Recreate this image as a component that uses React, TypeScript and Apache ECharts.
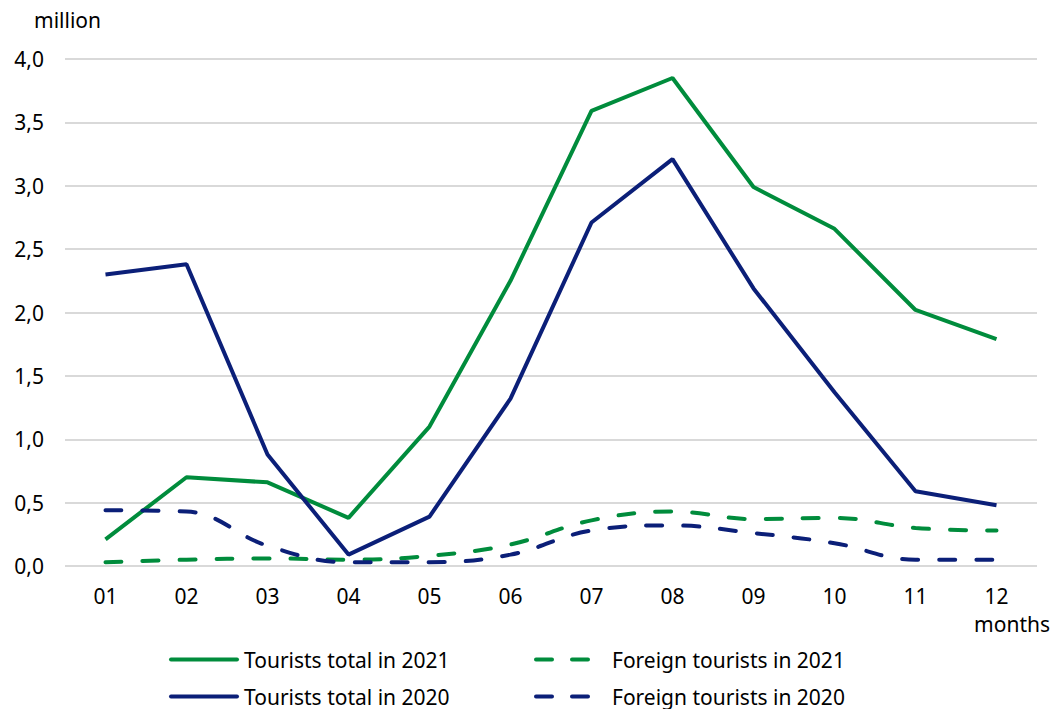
import React, { useEffect, useRef } from "react";
import * as echarts from "echarts";

const months = ["01", "02", "03", "04", "05", "06", "07", "08", "09", "10", "11", "12"];
const total2021 = [0.21, 0.7, 0.66, 0.38, 1.1, 2.25, 3.59, 3.85, 2.99, 2.66, 2.02, 1.79];
const total2020 = [2.3, 2.38, 0.88, 0.09, 0.39, 1.32, 2.71, 3.21, 2.19, 1.37, 0.59, 0.48];
const foreign2021 = [0.03, 0.05, 0.06, 0.05, 0.08, 0.17, 0.36, 0.43, 0.37, 0.38, 0.3, 0.28];
const foreign2020 = [0.44, 0.43, 0.16, 0.03, 0.03, 0.09, 0.28, 0.32, 0.26, 0.18, 0.05, 0.05];
const yTicks = [0, 0.5, 1, 1.5, 2, 2.5, 3, 3.5, 4];

const GREEN = "#008C3C";
const BLUE = "#0B1F78";
const FONT = "'Noto Sans', sans-serif";
const FS = 21;

function solidLegend(name: string, top: number) {
  return {
    left: 164,
    top,
    itemWidth: 66,
    itemHeight: 14,
    itemStyle: { opacity: 0 },
    lineStyle: { width: 4, cap: "round" },
    textStyle: { color: "#000", fontSize: FS, fontFamily: FONT, padding: [0, 0, 0, 2] },
    data: [name],
  };
}
function dashLegend(name: string, top: number) {
  return {
    left: 529,
    top,
    itemWidth: 52,
    itemHeight: 14,
    itemStyle: { opacity: 0 },
    lineStyle: { width: 4, type: [16, 20], cap: "round" },
    textStyle: { color: "#000", fontSize: FS, fontFamily: FONT, padding: [0, 0, 0, 19] },
    data: [name],
  };
}

export default function App() {
  const ref = useRef<HTMLDivElement>(null);
  useEffect(() => {
    if (!ref.current) return;
    const chart = echarts.init(ref.current, null, { renderer: "svg" });
    const dash = [16, 21];
    chart.setOption({
      animation: false,
      grid: { left: 65, right: 16, top: 59, bottom: 143, containLabel: false },
      xAxis: {
        type: "category",
        data: months,
        boundaryGap: true,
        axisLine: { show: false },
        axisTick: { show: false },
        axisLabel: { color: "#000", fontSize: FS, fontFamily: FONT, margin: 19 },
      },
      yAxis: {
        type: "value",
        min: yTicks[0],
        max: yTicks[yTicks.length - 1],
        interval: 0.5,
        axisLine: { show: false },
        axisTick: { show: false },
        splitLine: { lineStyle: { color: "#d9d9d9", width: 2 } },
        axisLabel: {
          color: "#000",
          fontSize: FS,
          fontFamily: FONT,
          margin: 21,
          formatter: (v: number) => v.toFixed(1).replace(".", ","),
        },
      },
      legend: [
        solidLegend("Tourists total in 2021", 644),
        solidLegend("Tourists total in 2020", 681),
        dashLegend("Foreign tourists in 2021", 644),
        dashLegend("Foreign tourists in 2020", 681),
      ],
      graphic: [
        {
          type: "text",
          left: 34,
          top: 9,
          style: { text: "million", fill: "#000", fontSize: FS, fontFamily: FONT },
        },
        {
          type: "text",
          right: 3,
          top: 613,
          style: { text: "months", fill: "#000", fontSize: FS, fontFamily: FONT },
        },
      ],
      series: [
        {
          name: "Tourists total in 2021",
          type: "line",
          data: total2021,
          symbol: "none",
          itemStyle: { color: GREEN },
          lineStyle: { color: GREEN, width: 4 },
        },
        {
          name: "Tourists total in 2020",
          type: "line",
          data: total2020,
          symbol: "none",
          itemStyle: { color: BLUE },
          lineStyle: { color: BLUE, width: 4 },
        },
        {
          name: "Foreign tourists in 2021",
          type: "line",
          data: foreign2021,
          symbol: "none",
          smooth: 0.4,
          itemStyle: { color: GREEN },
          lineStyle: { color: GREEN, width: 4, type: dash, cap: "round" },
        },
        {
          name: "Foreign tourists in 2020",
          type: "line",
          data: foreign2020,
          symbol: "none",
          smooth: 0.4,
          itemStyle: { color: BLUE },
          lineStyle: { color: BLUE, width: 4, type: dash, cap: "round" },
        },
      ],
    });
    return () => chart.dispose();
  }, []);
  return (
    <div
      ref={ref}
      style={{ position: "fixed", left: 0, top: 0, width: 1053, height: 709, background: "#fff" }}
    />
  );
}
